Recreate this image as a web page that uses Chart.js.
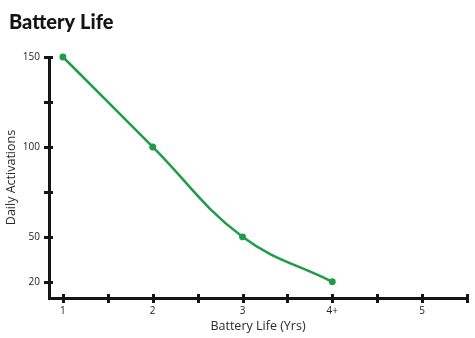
<!DOCTYPE html>
<html>
<head>
<meta charset="utf-8">
<script src="https://cdn.jsdelivr.net/npm/chart.js@4/dist/chart.umd.min.js"></script>
<style>
  html, body { margin: 0; padding: 0; background: #fff; }
  #wrap { width: 475px; height: 338px; }
</style>
</head>
<body>
<div id="wrap"><canvas id="batteryChart"></canvas></div>
<script>
var years = [1, 2, 3, 4];
var activations = [150, 100, 50, 20];

var xTickValues = [1, 1.5, 2, 2.5, 3, 3.5, 4, 4.5, 5, 5.5];
var xTickLabels = ["1", "", "2", "", "3", "", "4+", "", "5", ""];
var yTickValues = [20, 50, 75, 100, 125, 150];
var yTickLabels = ["20", "50", "", "100", "", "150"];

var axisColor = "#151515";
var green = "#1f9b4a";

// the reference squeezes 20..50 into one 25-step below 50
class SqueezedScale extends Chart.LinearScale {
    getPixelForValue(value) {
        var v = value < 50 ? 50 - (50 - value) * 25 / 30 : value;
        return super.getPixelForValue(v);
    }
}
SqueezedScale.id = "squeezed";
SqueezedScale.defaults = Chart.LinearScale.defaults;
Chart.register(SqueezedScale);

// tick marks cross the axis line
var crossTicks = {
    id: "crossTicks",
    beforeDatasetsDraw: function (chart) {
        var ctx = chart.ctx, x = chart.scales.x, y = chart.scales.y;
        ctx.save();
        ctx.strokeStyle = axisColor;
        ctx.lineWidth = 3;
        x.ticks.forEach(function (t, i) {
            var px = Math.round(x.getPixelForTick(i)) + 0.5;
            ctx.beginPath();
            ctx.moveTo(px, x.top + 5);
            ctx.lineTo(px, x.top - 4);
            ctx.stroke();
        });
        y.ticks.forEach(function (t, i) {
            var py = Math.round(y.getPixelForTick(i)) + 0.5;
            ctx.beginPath();
            ctx.moveTo(y.right - 5, py);
            ctx.lineTo(y.right + 4, py);
            ctx.stroke();
        });
        ctx.restore();
    }
};

new Chart("batteryChart", {
    type: "line",
    data: {
        datasets: [{
            data: years.map(function (yr, i) { return { x: yr, y: activations[i] }; }),
            borderColor: green,
            backgroundColor: green,
            borderWidth: 2.5,
            pointRadius: 2.2,
            pointHoverRadius: 2.2,
            fill: false,
            tension: 0.4,
            clip: false
        }]
    },
    options: {
        responsive: true,
        maintainAspectRatio: false,
        animation: false,
        events: [],
        layout: {
            padding: { left: 9, right: 8, top: 0, bottom: 0 }
        },
        plugins: {
            legend: { display: false },
            tooltip: { enabled: false },
            title: {
                display: true,
                text: "Battery Life",
                align: "start",
                color: "#141414",
                font: { family: "Lato", size: 20, weight: "900", lineHeight: 1.2 },
                padding: { top: 11, bottom: 22 }
            }
        },
        scales: {
            x: {
                type: "linear",
                min: 0.845,
                max: 5.5,
                afterBuildTicks: function (scale) {
                    scale.ticks = xTickValues.map(function (v) { return { value: v }; });
                },
                afterFit: function (scale) { scale.height = 40; },
                ticks: {
                    autoSkip: false,
                    maxRotation: 0,
                    padding: 7,
                    color: "#222",
                    font: { family: "Open Sans", size: 10 },
                    callback: function (v, i) { return xTickLabels[i]; }
                },
                grid: {
                    display: false,
                    drawOnChartArea: false,
                    drawTicks: false
                },
                border: { display: true, color: axisColor, width: 3 },
                title: {
                    display: true,
                    text: "Battery Life (Yrs)",
                    color: "#2a2a2a",
                    font: { family: "Open Sans", size: 12.5, lineHeight: 1.2 },
                    padding: { top: 0, bottom: 4 }
                }
            },
            y: {
                type: "squeezed",
                min: 16,
                max: 150,
                afterBuildTicks: function (scale) {
                    scale.ticks = yTickValues.map(function (v) { return { value: v }; });
                },
                afterFit: function (scale) { scale.width = 40; },
                ticks: {
                    autoSkip: false,
                    padding: 9,
                    color: "#222",
                    font: { family: "Open Sans", size: 10 },
                    callback: function (v, i) { return yTickLabels[i]; }
                },
                grid: {
                    display: false,
                    drawOnChartArea: false,
                    drawTicks: false
                },
                border: { display: true, color: axisColor, width: 3 },
                title: {
                    display: true,
                    text: "Daily Activations",
                    color: "#2a2a2a",
                    font: { family: "Open Sans", size: 12.5, lineHeight: 0.35 },
                    padding: 0
                }
            }
        }
    },
    plugins: [crossTicks]
});
</script>
</body>
</html>
